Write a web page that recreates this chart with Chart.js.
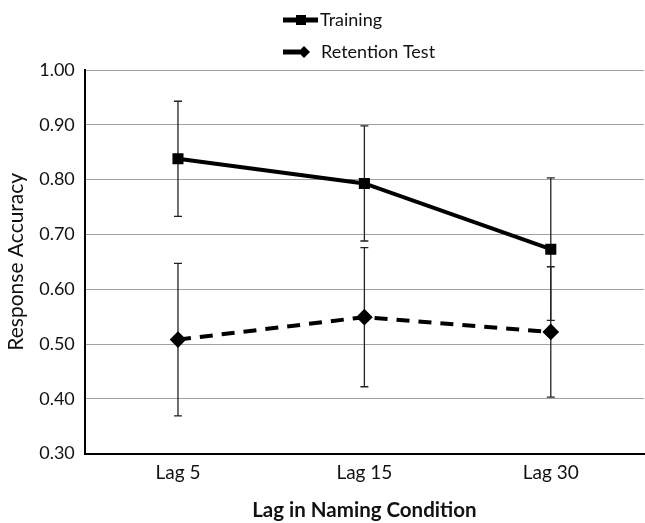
<!DOCTYPE html>
<html>
<head>
<meta charset="utf-8">
<title>Response Accuracy</title>
<script src="https://cdn.jsdelivr.net/npm/chart.js"></script>
<style>
  html, body { margin: 0; padding: 0; background: #fff; }
  #wrap { width: 645px; height: 523px; }
</style>
</head>
<body>
<div id="wrap"><canvas id="chart"></canvas></div>
<script>
// datos
const categories = ['Lag 5', 'Lag 15', 'Lag 30'];
const training = [0.838, 0.793, 0.673];
const trainingErr = [0.105, 0.105, 0.13];
const retention = [0.508, 0.549, 0.522];
const retentionErr = [0.139, 0.127, 0.119];
const yTicks = [0.3, 0.4, 0.5, 0.6, 0.7, 0.8, 0.9, 1.0];

const FONT = 'Lato, "Open Sans", sans-serif';

// barras de error con las escalas del gráfico
const errorBars = {
  id: 'errorBars',
  beforeDatasetsDraw(chart) {
    const ctx = chart.ctx;
    const x = chart.scales.x;
    const y = chart.scales.y;
    ctx.save();
    ctx.strokeStyle = '#222';
    ctx.lineWidth = 1.3;
    chart.data.datasets.forEach((ds) => {
      ds.data.forEach((v, i) => {
        const px = x.getPixelForValue(i);
        const top = y.getPixelForValue(v + ds.err[i]);
        const bot = y.getPixelForValue(v - ds.err[i]);
        ctx.beginPath();
        ctx.moveTo(px, top); ctx.lineTo(px, bot);
        ctx.moveTo(px - 4, top); ctx.lineTo(px + 4, top);
        ctx.moveTo(px - 4, bot); ctx.lineTo(px + 4, bot);
        ctx.stroke();
      });
    });
    ctx.restore();
  }
};

// leyenda apilada arriba
const stackedLegend = {
  id: 'stackedLegend',
  afterDraw(chart) {
    const ctx = chart.ctx;
    const rows = [
      { label: 'Training', y: 20, marker: 'square' },
      { label: 'Retention Test', y: 52, marker: 'diamond' }
    ];
    ctx.save();
    rows.forEach((r) => {
      ctx.strokeStyle = '#000';
      ctx.fillStyle = '#000';
      ctx.lineWidth = 5;
      ctx.beginPath();
      if (r.marker === 'square') {
        ctx.moveTo(283, r.y); ctx.lineTo(318, r.y);
      } else {
        ctx.moveTo(283, r.y); ctx.lineTo(300, r.y);
      }
      ctx.stroke();
      if (r.marker === 'square') {
        ctx.fillRect(296, r.y - 5, 10, 10);
      } else {
        ctx.beginPath();
        ctx.moveTo(304, r.y - 6); ctx.lineTo(310, r.y); ctx.lineTo(304, r.y + 6); ctx.lineTo(298, r.y);
        ctx.closePath(); ctx.fill();
      }
      ctx.font = '18px ' + FONT;
      ctx.textBaseline = 'middle';
      ctx.fillStyle = '#111';
      ctx.fillText(r.label, r.marker === 'square' ? 320 : 321, r.y);
    });
    ctx.restore();
  }
};

new Chart(document.getElementById('chart'), {
  type: 'line',
  data: {
    labels: categories,
    datasets: [
      {
        label: 'Training',
        data: training,
        err: trainingErr,
        borderColor: '#000',
        backgroundColor: '#000',
        borderWidth: 4,
        pointStyle: 'rect',
        pointRadius: 5,
        pointHoverRadius: 5,
        tension: 0
      },
      {
        label: 'Retention Test',
        data: retention,
        err: retentionErr,
        borderColor: '#000',
        backgroundColor: '#000',
        borderWidth: 4,
        borderDash: [13, 9],
        pointStyle: 'rectRot',
        pointRadius: 5.5,
        pointHoverRadius: 5.5,
        tension: 0
      }
    ]
  },
  options: {
    responsive: true,
    maintainAspectRatio: false,
    animation: false,
    layout: { autoPadding: false, padding: { top: 70, right: 1, left: 0, bottom: 0 } },
    plugins: {
      legend: { display: false },
      tooltip: { enabled: false }
    },
    scales: {
      x: {
        offset: true,
        grid: { display: false, drawTicks: false },
        border: { color: '#000', width: 2 },
        ticks: { color: '#111', font: { family: FONT, size: 19 }, padding: 8 },
        title: {
          display: true,
          text: 'Lag in Naming Condition',
          color: '#111',
          font: { family: FONT, size: 20.5, weight: 'bold' },
          padding: { top: 6, bottom: 0 }
        }
      },
      y: {
        min: 0.3,
        max: 1.0,
        afterBuildTicks(axis) { axis.ticks = yTicks.map((v) => ({ value: v })); },
        grid: { color: '#a0a0a0', lineWidth: 1, drawTicks: false },
        border: { color: '#000', width: 2 },
        ticks: {
          color: '#111',
          font: { family: FONT, size: 18 },
          padding: 10,
          callback: (v) => Number(v).toFixed(2)
        },
        title: {
          display: true,
          text: 'Response Accuracy',
          color: '#111',
          font: { family: FONT, size: 21 },
          padding: { top: 4, bottom: 0 }
        }
      }
    }
  },
  plugins: [errorBars, stackedLegend]
});
</script>
</body>
</html>
